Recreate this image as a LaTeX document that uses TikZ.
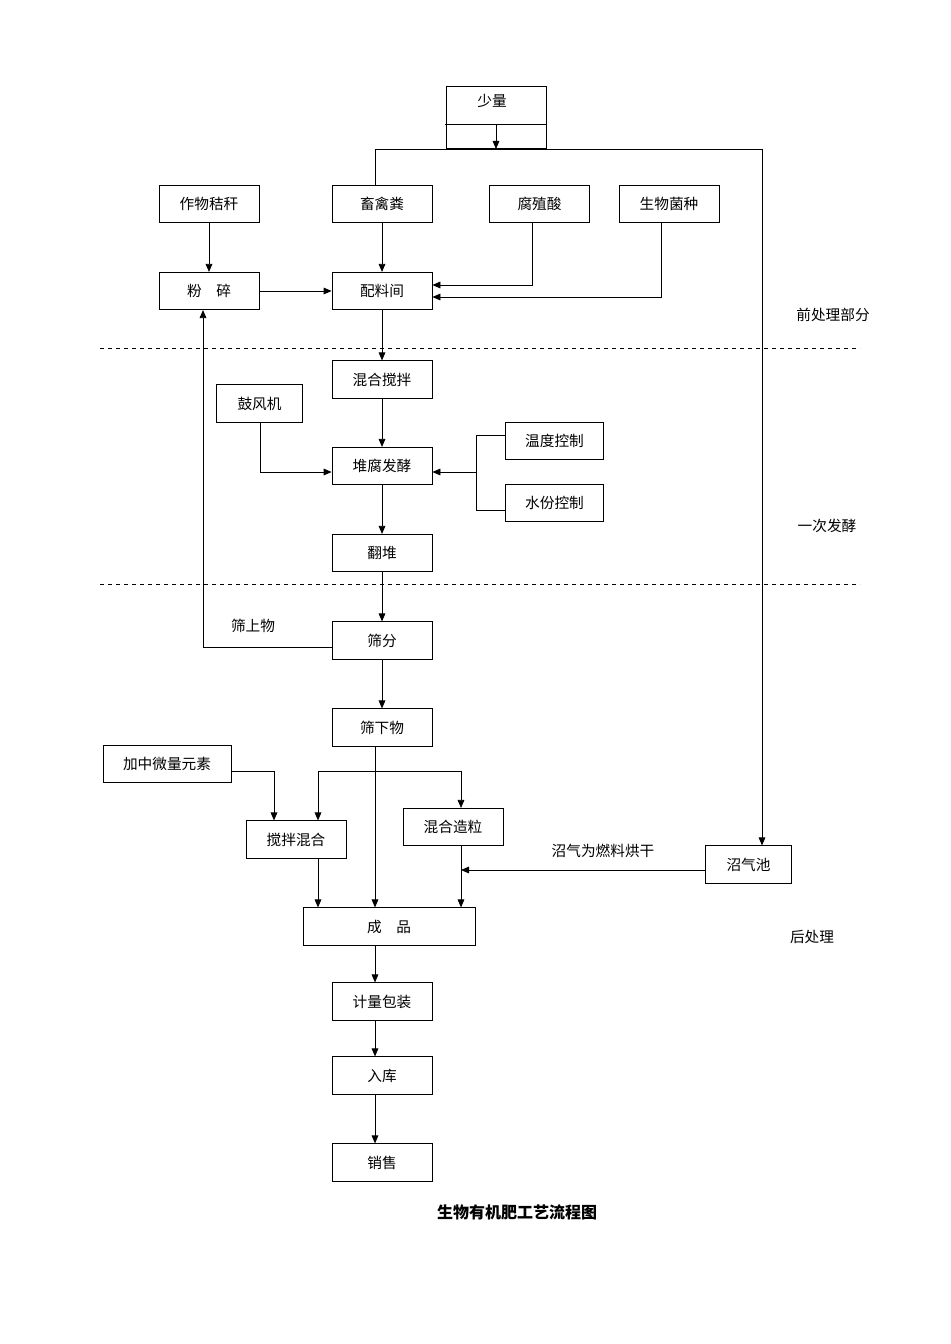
\documentclass[tikz,border=0pt]{standalone}
\usepackage{fontspec}
\setmainfont{Noto Sans CJK SC}
\usetikzlibrary{arrows.meta}

\begin{document}
\begin{tikzpicture}[x=0.75pt,y=-0.75pt,
  font=\fontsize{11}{13}\selectfont,
  box/.style={draw,line width=0.6pt,minimum width=75pt,minimum height=28pt,inner sep=0pt},
  line/.style={line width=0.6pt},
  arr/.style={line width=0.6pt,-{Triangle[length=6pt,width=5pt]}},
  sep/.style={dashed,line width=0.6pt}]
\useasboundingbox (0,0) rectangle (950,1344);
% top
\node[box,minimum height=47pt] (sl) at (496,117.5) {};
\node at (492,101) {少量};
\draw[line] (445,124) -- (547,124);
\node[box] (zw) at (209,204) {作物秸秆};
\node[box] (cq) at (382,204) {畜禽粪};
\node[box] (fz) at (539.5,204) {腐殖酸};
\node[box] (sw) at (669,204) {生物菌种};
\node[box] (fs) at (209,291) {粉\quad 碎};
\node[box] (pl) at (382,291) {配料间};
\coordinate (tl) at (375,149);
\coordinate (tr) at (762,149);
\draw[arr] (496,124) -- (496,149);
\draw[line] (cq.north -| tl) -- (tl) -- (tr);
\draw[arr] (zw) -- (fs);
\draw[arr] (cq) -- (pl);
\draw[arr] (fs) -- (pl);
\draw[arr] (fz.south -| 532,0) |- ([yshift=4.5pt]pl.east);
\draw[arr] (sw.south -| 661,0) |- ([yshift=-4.5pt]pl.east);
\node at (833,315) {前处理部分};
\draw[sep] (100,348) -- (860,348);
% ferment
\node[box] (hh) at (382,379.5) {混合搅拌};
\node[box,minimum width=64pt] (gf) at (259.5,403.5) {鼓风机};
\node[box] (df) at (382,466) {堆腐发酵};
\node[box,minimum width=74pt] (wd) at (554.5,441) {温度控制};
\node[box,minimum width=74pt] (sf) at (554.5,503) {水份控制};
\node[box] (fd) at (382,553) {翻堆};
\coordinate (br) at (476,472);
\draw[arr] (pl) -- (hh);
\draw[arr] (hh) -- (df);
\draw[arr] (gf.south -| 260,0) |- (df.west |- br);
\draw[line] (wd.west |- 0,435) -| (476,510) -- (sf.west |- 0,510);
\draw[arr] (br) -- (df.east |- br);
\draw[arr] (df) -- (fd);
\node at (827,526) {一次发酵};
\draw[sep] (100,584) -- (860,584);
% post
\node[box] (sfn) at (382,640.5) {筛分};
\node[box] (sx) at (382,727.5) {筛下物};
\node[box,minimum width=96pt] (jz) at (167,764) {加中微量元素};
\node[box] (jb) at (296,839.5) {搅拌混合};
\node[box] (hz) at (453,827) {混合造粒};
\node[box,minimum width=64pt] (zq) at (748.5,864.5) {沼气池};
\node[box,minimum width=129pt] (cp) at (389,926.5) {成\quad 品};
\node[box] (jl) at (382,1001.5) {计量包装};
\node[box] (rk) at (382,1075.5) {入库};
\node[box] (xs) at (382,1162.5) {销售};
\draw[arr] (fd) -- (sfn);
\draw[arr] (sfn.west |- 0,647) -| (fs.south -| 203,0);
\node at (253,626) {筛上物};
\draw[arr] (sfn) -- (sx);
\draw[arr] (sx.south -| 375,0) -- (cp.north -| 375,0);
\draw[arr] (jz.east |- 0,771) -| (jb.north -| 274,0);
\draw[line] (318,771) -- (461,771);
\draw[arr] (318,771) -- (jb.north -| 318,0);
\draw[arr] (461,771) -- (hz.north -| 461,0);
\draw[arr] (jb.south -| 318,0) -- (cp.north -| 318,0);
\draw[arr] (hz.south -| 461,0) -- (cp.north -| 461,0);
\draw[arr] (tr) -- (zq.north -| tr);
\draw[arr] (zq.west |- 0,870) -- (461,870);
\node at (603,851) {沼气为燃料烘干};
\node at (812,937) {后处理};
\draw[arr] (cp.south -| 375,0) -- (jl.north -| 375,0);
\draw[arr] (jl.south -| 375,0) -- (rk.north -| 375,0);
\draw[arr] (rk.south -| 375,0) -- (xs.north -| 375,0);
\node[font=\fontsize{12}{14}\selectfont\bfseries] at (517,1212) {生物有机肥工艺流程图};
\end{tikzpicture}
\end{document}
